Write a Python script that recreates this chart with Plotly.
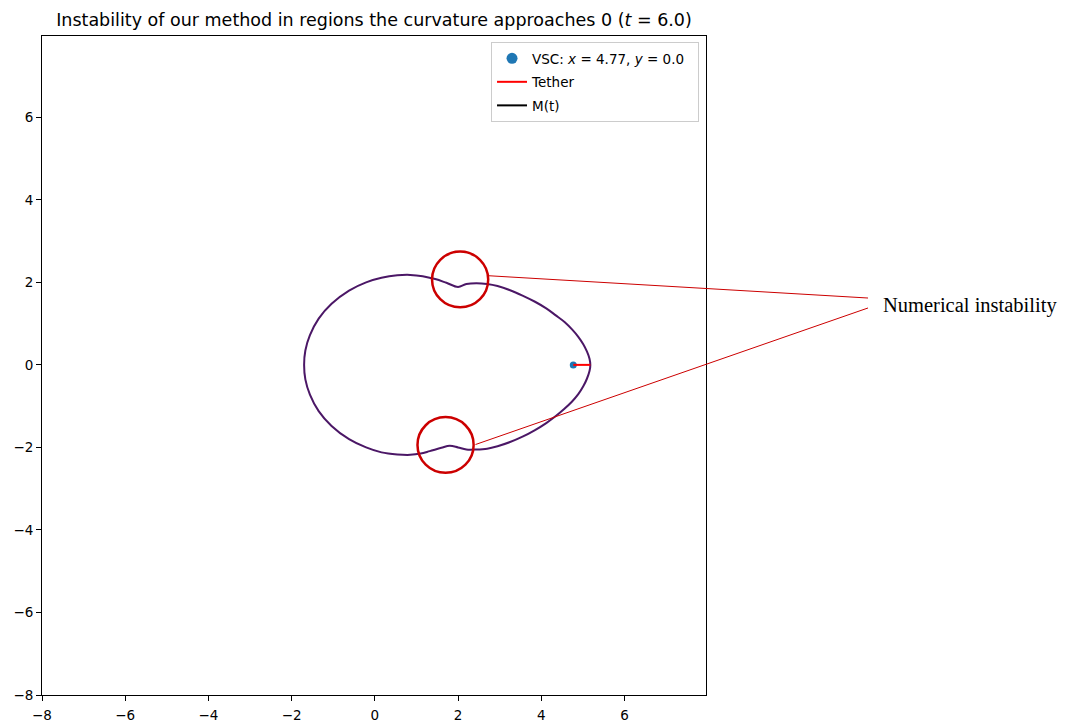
import plotly.graph_objects as go

# Boundary M(t) at t = 6.0, traced counter-clockwise from the rightmost point
curve_x = [5.18, 5.16, 5.10, 5.01, 4.89, 4.74, 4.56, 4.35, 4.12, 3.85, 3.55, 3.25, 2.95,
           2.70, 2.44, 2.20, 2.00,
           1.72, 1.45, 1.15, 0.85, 0.54, 0.16, -0.21, -0.62, -1.04, -1.35, -1.56, -1.67,
           -1.70, -1.67, -1.56, -1.35, -1.04, -0.62, -0.21, 0.16, 0.54, 0.85, 1.10, 1.32,
           1.60, 1.80, 2.00, 2.20, 2.44, 2.70, 2.95, 3.25, 3.55, 3.85, 4.12, 4.35, 4.55,
           4.73, 4.89, 5.01, 5.10, 5.16, 5.18]
curve_y = [0.00, 0.15, 0.32, 0.50, 0.68, 0.86, 1.04, 1.20, 1.37, 1.53, 1.68, 1.81, 1.91,
           1.96, 1.98, 1.96, 1.89,
           1.99, 2.08, 2.15, 2.18, 2.17, 2.11, 2.00, 1.80, 1.48, 1.12, 0.72, 0.35,
           0.00, -0.35, -0.72, -1.12, -1.48, -1.80, -2.00, -2.12, -2.17, -2.18, -2.15, -2.09,
           -2.01, -1.96, -2.00, -2.05, -2.05, -2.03, -1.97, -1.87, -1.74, -1.58, -1.41, -1.24, -1.07,
           -0.90, -0.71, -0.52, -0.33, -0.15, 0.00]

# Spacecraft position and tether end point
VSC_X, VSC_Y = 4.77, 0.0
TETHER_END_X, TETHER_END_Y = 5.18, 0.0
T_VALUE = 6.0

# Regions highlighted as numerically unstable
circle_cx = [2.05, 1.70]
circle_cy = [2.07, -1.94]
CIRCLE_R = 0.675
# Leader-line start points on the circles
leader_x = [2.74, 2.42]
leader_y = [2.16, -1.93]

X_RANGE = [-8, 7.96]
Y_RANGE = [-8, 7.97]
tick_vals = [-8, -6, -4, -2, 0, 2, 4, 6]
tick_text = [str(v).replace("-", "\u2212") for v in tick_vals]

CURVE_COLOR = "#4b1766"
HIGHLIGHT = "#cc0000"
FONT = "DejaVu Sans"


def px(x):
    return (x - X_RANGE[0]) / (X_RANGE[1] - X_RANGE[0])


def py(y):
    return (y - Y_RANGE[0]) / (Y_RANGE[1] - Y_RANGE[0])


fig = go.Figure()

fig.add_trace(go.Scatter(x=curve_x, y=curve_y, mode="lines",
                         line=dict(color=CURVE_COLOR, width=2, shape="spline", smoothing=1.0),
                         showlegend=False, hoverinfo="skip"))
fig.add_trace(go.Scatter(x=[VSC_X], y=[VSC_Y], mode="markers",
                         marker=dict(color="#1f77b4", size=7), showlegend=False))
fig.add_trace(go.Scatter(x=[VSC_X, TETHER_END_X], y=[VSC_Y, TETHER_END_Y], mode="lines",
                         line=dict(color="red", width=2), showlegend=False))

# Legend entries
fig.add_trace(go.Scatter(x=[None], y=[None], mode="markers",
                         marker=dict(color="#1f77b4", size=11),
                         name=f"VSC: <i>x</i> = {VSC_X}, <i>y</i> = {VSC_Y}  ", legendgroup="a"))
fig.add_trace(go.Scatter(x=[None], y=[None], mode="lines",
                         line=dict(color="red", width=2), name="Tether", legendgroup="b"))
fig.add_trace(go.Scatter(x=[None], y=[None], mode="lines",
                         line=dict(color="black", width=2), name="M(t)", legendgroup="c"))

shapes = []
for cx, cy in zip(circle_cx, circle_cy):
    shapes.append(dict(type="circle", xref="x", yref="y",
                       x0=cx - CIRCLE_R, x1=cx + CIRCLE_R, y0=cy - CIRCLE_R, y1=cy + CIRCLE_R,
                       line=dict(color=HIGHLIGHT, width=2.5)))

label_end_x = 1.244
label_end_y = [0.6024, 0.5873]
for lx, ly, ey in zip(leader_x, leader_y, label_end_y):
    shapes.append(dict(type="line", xref="paper", yref="paper",
                       x0=px(lx), y0=py(ly), x1=label_end_x, y1=ey,
                       line=dict(color=HIGHLIGHT, width=1)))

axis_common = dict(showgrid=False, zeroline=False, showline=True, mirror=True,
                   linecolor="black", linewidth=1, ticks="outside", ticklen=5,
                   tickwidth=1, tickcolor="black", tickvals=tick_vals, ticktext=tick_text,
                   tickfont=dict(family=FONT, size=13.5, color="black"), automargin=False)

fig.update_layout(
    width=1065, height=724,
    margin=dict(l=42, r=359, t=36, b=29),
    paper_bgcolor="white", plot_bgcolor="white",
    title=dict(text=f"Instability of our method in regions the curvature approaches 0 (<i>t</i> = {T_VALUE})",
               x=0.5, xref="paper", xanchor="center", y=1 - 20 / 724, yref="container",
               yanchor="middle", font=dict(family=FONT, size=17.5, color="black")),
    xaxis=dict(range=X_RANGE, ticklabelstandoff=3, **axis_common),
    yaxis=dict(range=Y_RANGE, **axis_common),
    legend=dict(x=0.9895, y=0.9909, xanchor="right", yanchor="top",
                bgcolor="white", bordercolor="#cccccc", borderwidth=1,
                font=dict(family=FONT, size=13.5, color="black"),
                traceorder="grouped", tracegroupgap=3),
    shapes=shapes,
    annotations=[dict(text="Numerical instability", xref="paper", yref="paper",
                      x=1.2636, y=0.5918, xanchor="left", yanchor="middle", showarrow=False,
                      font=dict(family="Liberation Serif", size=20.5, color="black"))],
)

fig.write_html("out.html")
